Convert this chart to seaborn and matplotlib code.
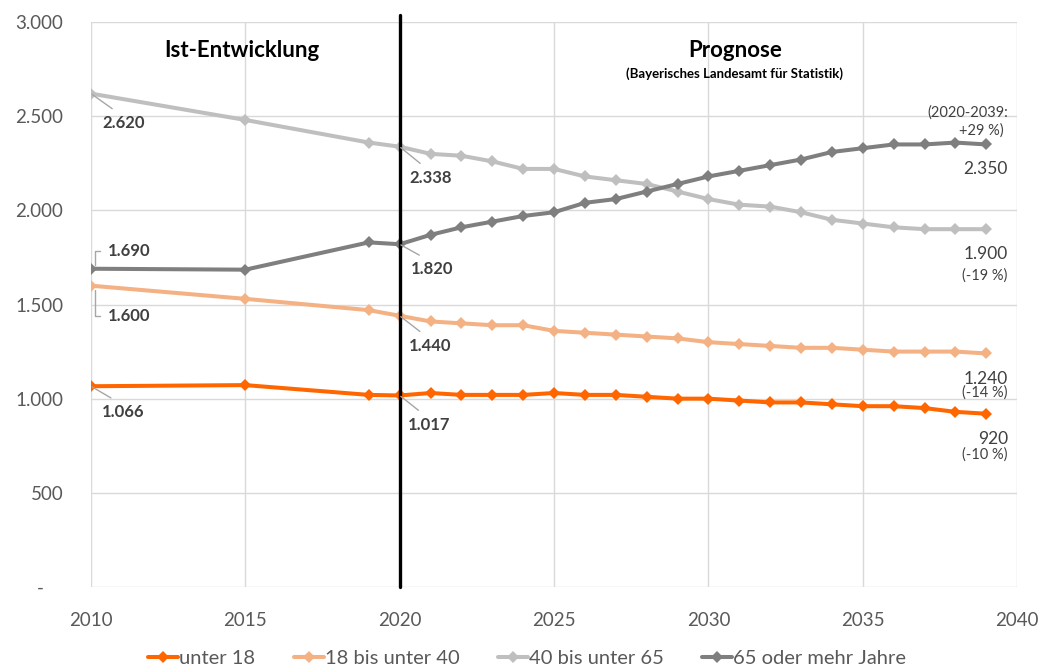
import numpy as np
import pandas as pd
import matplotlib
matplotlib.use("Agg")
import matplotlib.pyplot as plt
from matplotlib.ticker import FuncFormatter
import seaborn as sns

years = [2010, 2015, 2019, 2020, 2021, 2022, 2023, 2024, 2025, 2026, 2027, 2028,
         2029, 2030, 2031, 2032, 2033, 2034, 2035, 2036, 2037, 2038, 2039]
unter_18 = [1066, 1072, 1020, 1017, 1030, 1020, 1020, 1020, 1030, 1020, 1020, 1010,
            1000, 1000, 990, 980, 980, 970, 960, 960, 950, 930, 920]
u18_40 = [1600, 1530, 1470, 1440, 1410, 1400, 1390, 1390, 1360, 1350, 1340, 1330,
          1320, 1300, 1290, 1280, 1270, 1270, 1260, 1250, 1250, 1250, 1240]
u40_65 = [2620, 2480, 2360, 2338, 2300, 2290, 2260, 2220, 2220, 2180, 2160, 2140,
          2100, 2060, 2030, 2020, 1990, 1950, 1930, 1910, 1900, 1900, 1900]
ab_65 = [1690, 1685, 1830, 1820, 1870, 1910, 1940, 1970, 1990, 2040, 2060, 2100,
         2140, 2180, 2210, 2240, 2270, 2310, 2330, 2350, 2350, 2360, 2350]
labels = ["unter 18", "18 bis unter 40", "40 bis unter 65", "65 oder mehr Jahre"]
colors = ["#FF6600", "#F4B183", "#BFBFBF", "#7F7F7F"]

df = pd.concat([
    pd.DataFrame({"Jahr": years, "Wert": vals, "Gruppe": lab})
    for lab, vals in zip(labels, [unter_18, u18_40, u40_65, ab_65])
])

sns.set_style("white")
plt.rcParams['font.family'] = ['Lato', 'DejaVu Sans']
txt = "#404040"

fig = plt.figure(figsize=(10.4, 6.68), dpi=100)
ax = fig.add_axes([0.0875, 0.1213, 0.8905, 0.8457])

sns.lineplot(data=df, x="Jahr", y="Wert", hue="Gruppe", hue_order=labels,
             palette=colors, marker="D", markersize=6.5, markeredgewidth=0,
             linewidth=2.9, ax=ax)

ax.set_xlim(2010, 2040)
ax.set_ylim(0, 3000)
ax.set_xticks(range(2010, 2041, 5))
ax.set_yticks(range(0, 3001, 500))
ax.yaxis.set_major_formatter(FuncFormatter(
    lambda v, p: "-    " if v == 0 else f"{int(v):,}".replace(",", ".")))
ax.grid(True, color="#D9D9D9", linewidth=1)
for s in ax.spines.values():
    s.set_visible(False)
ax.tick_params(axis="both", colors="#595959", labelsize=13.5, length=0)
ax.tick_params(axis="x", pad=18)
ax.tick_params(axis="y", pad=20)
ax.set_xlabel("")
ax.set_ylabel("")

# Trennlinie Ist / Prognose
ax.axvline(2020, ymin=0, ymax=1.013, color="black", linewidth=2.4, clip_on=False)

ax.text(2014.9, 2850, "Ist-Entwicklung", ha="center", va="center",
        fontsize=16, fontweight="bold", color="black")
ax.text(2030.86, 2850, "Prognose", ha="center", va="center",
        fontsize=16, fontweight="bold", color="black")
ax.text(2030.86, 2728, "(Bayerisches Landesamt für Statistik)", ha="center",
        va="center", fontsize=9.5, fontweight="bold", color="black")

# Beschriftungen mit Führungslinien
lead = dict(arrowstyle="-", color="#A6A6A6", lw=1, shrinkA=4, shrinkB=1,
            relpos=(0.45, 1))
notes = [
    ("2.620", 2010, 2620, 2011.05, 2463),
    ("1.066", 2010, 1066, 2011.05, 929),
    ("2.338", 2020, 2338, 2021.0, 2171),
    ("1.820", 2020, 1820, 2021.05, 1688),
    ("1.440", 2020, 1440, 2021.0, 1279),
    ("1.017", 2020, 1017, 2020.95, 860),
]
for t, x, y, tx, ty in notes:
    ax.annotate(t, xy=(x, y), xytext=(tx, ty), ha="center", va="center",
                fontsize=12, fontweight="bold", color=txt, arrowprops=lead)

bracket = dict(arrowstyle="-", color="#A6A6A6", lw=1, shrinkA=3, shrinkB=3,
               relpos=(0, 0.5), connectionstyle="angle,angleA=180,angleB=90,rad=0")
for t, y, ty in [("1.690", 1690, 1783), ("1.600", 1600, 1438)]:
    ax.annotate(t, xy=(2010.12, y), xytext=(2011.23, ty), ha="center", va="center",
                fontsize=12, fontweight="bold", color=txt, arrowprops=bracket)

# Endwerte rechts
xr = 2039.7
ends = [
    ("2.350", 2219, None, 0),
    ("1.900", 1767, "(-19 %)", 1656),
    ("1.240", 1104, "(-14 %)", 1030),
    ("920", 786, "(-10 %)", 701),
]
for t, ty, pct, py in ends:
    ax.text(xr, ty, t, ha="right", va="center", fontsize=12.5, color=txt)
    if pct:
        ax.text(xr, py, pct, ha="right", va="center", fontsize=10.5, color=txt)
ax.text(xr, 2521, "(2020-2039:", ha="right", va="center", fontsize=10.5, color=txt)
ax.text(xr - 0.15, 2426, "+29 %)", ha="right", va="center", fontsize=10.5, color=txt)

ax.legend(handles=ax.get_legend_handles_labels()[0], labels=labels,
          loc="center", bbox_to_anchor=(0.471, -0.126), ncol=4, frameon=False,
          fontsize=14.5, handlelength=1.5, handletextpad=0.05, columnspacing=1.9,
          labelcolor="#595959")

fig.savefig("out.png", dpi=100)
